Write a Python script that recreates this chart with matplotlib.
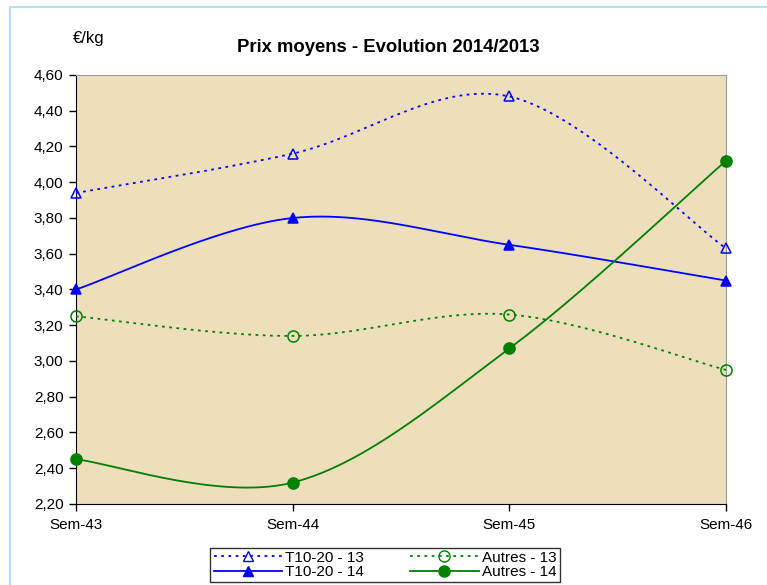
import numpy as np
import matplotlib
matplotlib.use("Agg")
import matplotlib.pyplot as plt
from matplotlib.lines import Line2D
from matplotlib.patches import Rectangle

plt.rcParams['font.family'] = ['Liberation Sans', 'DejaVu Sans']

categories = ["Sem-43", "Sem-44", "Sem-45", "Sem-46"]
t1020_13 = [3.94, 4.16, 4.48, 3.63]
t1020_14 = [3.40, 3.80, 3.65, 3.45]
autres_13 = [3.25, 3.14, 3.26, 2.95]
autres_14 = [2.45, 2.32, 3.07, 4.12]
yticks = [2.20, 2.40, 2.60, 2.80, 3.00, 3.20, 3.40, 3.60, 3.80, 4.00, 4.20, 4.40, 4.60]


def smooth(xs, ys, n=60):
    xs = np.asarray(xs, float)
    ys = np.asarray(ys, float)
    P = np.column_stack([xs, ys])
    out = []
    for i in range(len(P) - 1):
        p0 = P[i - 1] if i > 0 else P[i]
        p1 = P[i]
        p2 = P[i + 1]
        p3 = P[i + 2] if i + 2 < len(P) else P[i + 1]
        c1 = p1 + (p2 - p0) / 6.0
        c2 = p2 - (p3 - p1) / 6.0
        t = np.linspace(0, 1, n)[:, None]
        seg = ((1 - t) ** 3) * p1 + 3 * ((1 - t) ** 2) * t * c1 + 3 * (1 - t) * t ** 2 * c2 + t ** 3 * p2
        out.append(seg if i == 0 else seg[1:])
    seg = np.vstack(out)
    return seg[:, 0], seg[:, 1]


fig = plt.figure(figsize=(7.67, 5.85), dpi=100)
# outer light-blue frame
fig.patches.append(Rectangle((10 / 767, -0.1), 1.2, (585 - 7) / 585 + 0.1, transform=fig.transFigure,
                             fill=False, edgecolor='#A8D8F0', linewidth=1.2))

ax = fig.add_axes([76 / 767, 81 / 585, 650 / 767, 429 / 585])
ax.set_facecolor('#EDDEBC')

x = np.arange(len(categories))
series = [
    (t1020_13, 'blue', (0, (1.5, 2.5)), '^', 'none', 7, "T10-20 - 13"),
    (autres_13, 'green', (0, (1.5, 2.5)), 'o', 'none', 8, "Autres - 13"),
    (t1020_14, 'blue', '-', '^', 'blue', 7, "T10-20 - 14"),
    (autres_14, 'green', '-', 'o', 'green', 8, "Autres - 14"),
]
handles = {}
for vals, col, ls, mk, mfc, ms, lab in series:
    sx, sy = smooth(x, vals)
    ax.plot(sx, sy, color=col, linestyle=ls, linewidth=1.3, zorder=3, clip_on=False)
    ax.plot(x, vals, linestyle='none', marker=mk, markerfacecolor=mfc, markeredgecolor=col,
            markersize=ms, markeredgewidth=1.1, zorder=4, clip_on=False)
    handles[lab] = Line2D([], [], color=col, linestyle=ls, linewidth=1.3, marker=mk,
                          markerfacecolor=mfc, markeredgecolor=col, markersize=ms)

ax.set_xlim(0, 3)
ax.set_ylim(2.2, 4.6)
ax.set_yticks(yticks)
ax.set_yticklabels([f"{v:.2f}".replace('.', ',') for v in yticks], fontsize=11)
ax.set_xticks(x)
ax.set_xticklabels(categories, fontsize=11)
ax.tick_params(axis='both', direction='out', length=5, width=1, colors='black', pad=4)
ax.tick_params(axis='x', pad=5)
for s in ['top', 'right']:
    ax.spines[s].set_color('#999999')
for s in ['left', 'bottom']:
    ax.spines[s].set_color('black')

fig.text(388 / 767, 1 - 47 / 585, "Prix moyens - Evolution 2014/2013", ha='center', va='center',
         fontsize=13.3, fontweight='bold')
fig.text(73 / 767, 1 - 38 / 585, "€/kg", ha='left', va='center', fontsize=12)

order = ["T10-20 - 13", "T10-20 - 14", "Autres - 13", "Autres - 14"]
leg = fig.legend([handles[k] for k in order], order, ncol=2, loc='center',
                 bbox_to_anchor=(385 / 767, 1 - 565 / 585), fontsize=11, frameon=True,
                 fancybox=False, edgecolor='black', borderpad=0.2, labelspacing=0.05,
                 handlelength=4.5, handletextpad=0.2, columnspacing=3.0)
leg.get_frame().set_linewidth(1.0)

fig.savefig("out.png", dpi=100)
